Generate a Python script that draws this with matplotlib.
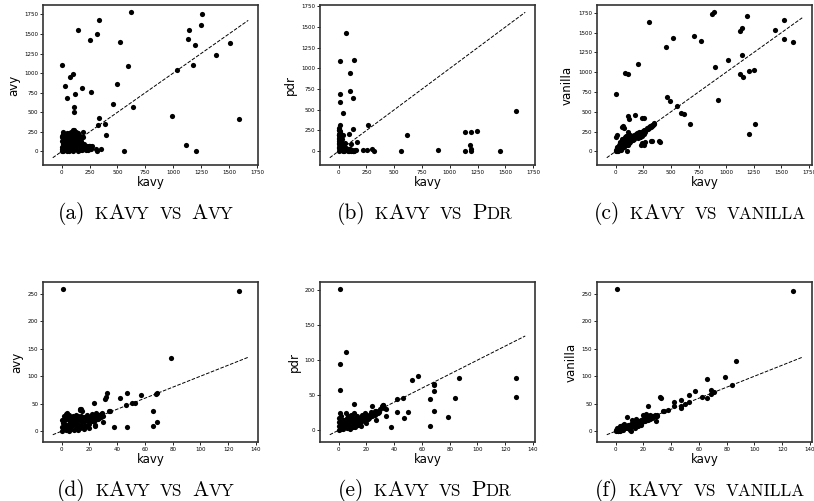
import numpy as np
import matplotlib
matplotlib.use("Agg")
import matplotlib.pyplot as plt

# ─── data ──────────────────────────────────────────────────────────
# top row: large benchmark set
kavy_avy_big = [
    0, 30, 45, 75, 105, 111, 111, 123, 183, 261, 144, 258, 321, 336, 519, 618, 591, 492,
    462, 642, 336, 324, 390, 399, 351, 312, 321, 561, 246, 165, 225, 255, 987, 1035,
    1119, 1200, 1146, 1137, 1197, 1179, 1245, 1254, 1383, 1512, 1593,
    0, 2, 5, 8, 3, 6, 10, 15, 20, 25, 30, 28, 35, 40, 45, 50, 55, 60, 65, 70, 75, 80,
    85, 90, 95, 100, 105, 110, 115, 120, 100, 110, 125, 130, 140, 150, 160, 170, 175,
    190, 200, 210, 180, 150, 230, 245, 260, 265, 270, 240, 220, 60, 20, 90,
    10, 20, 30, 40, 50, 60, 70, 80, 90, 100, 110, 120, 130, 140, 150, 160, 170, 15, 5,
    45, 85, 125, 95, 135, 165, 195, 185, 55, 35, 75,
]
avy_big = [
    1103, 831, 686, 950, 984, 567, 498, 737, 805, 762, 1546, 1427, 1504, 1683, 1393, 1776,
    1086, 865, 600, 567, 422, 332, 349, 213, 34, 30, 0, 0, 64, 21, 60, 70, 447, 1035,
    77, 0, 1546, 1436, 1363, 1099, 1619, 1759, 1235, 1389, 417,
    0, 30, 60, 100, 140, 180, 220, 10, 50, 90, 130, 170, 210, 20, 70, 110, 160, 200,
    230, 5, 40, 80, 120, 180, 240, 0, 60, 100, 140, 200, 270, 280, 30, 90, 160, 230,
    120, 60, 180, 245, 100, 40, 20, 5, 75, 70, 60, 30, 70, 20, 15, 140, 200, 230,
    120, 200, 40, 160, 240, 60, 120, 200, 20, 140, 220, 50, 180, 240, 80, 200, 140, 250,
    200, 10, 250, 250, 70, 130, 30, 180, 90, 40, 90, 170,
]

kavy_pdr_big = [
    69, 15, 135, 105, 12, 9, 99, 129, 39, 6, 15, 6, 39, 129, 93, 114, 165, 261, 615, 219,
    252, 303, 318, 561, 891, 1140, 1194, 1245, 1179, 1194, 1194, 1137, 1455, 1599,
    0, 2, 4, 5, 3, 6, 10, 12, 15, 18, 20, 25, 30, 35, 40, 45, 50, 60, 70, 80, 90, 100,
    110, 120, 130, 140, 150, 20, 30, 8, 25, 55, 10, 15, 0, 5,
    0, 0, 0, 0, 0, 8, 10, 14, 18, 22, 28, 35, 42, 50, 65, 75, 95, 105, 125, 160,
]
pdr_big = [
    1434, 1091, 1099, 941, 687, 594, 731, 646, 465, 283, 319, 210, 194, 263, 206, 85, 105,
    319, 198, 8, 8, 28, 0, 0, 16, 230, 230, 242, 69, 28, 0, 0, 0, 481,
    0, 40, 80, 120, 160, 190, 20, 60, 100, 140, 10, 50, 90, 30, 5, 60, 20, 10, 40, 5,
    25, 10, 0, 15, 5, 0, 8, 180, 150, 240, 120, 100, 220, 230, 200, 250,
    50, 100, 150, 200, 250, 30, 130, 170, 60, 100, 20, 70, 40, 5, 25, 10, 5, 30, 0, 10,
]

kavy_vanilla_big = [
    0, 85, 109, 198, 304, 459, 520, 708, 772, 875, 891, 1189, 1122, 1143, 1438, 1520,
    1526, 1608, 1146, 1015, 897, 1128, 1152, 1204, 1256, 927, 1262, 1210, 672, 559, 593,
    623, 462, 492, 395, 322, 350, 325, 258, 231, 252, 255, 176, 118, 115, 58, 0, 9, 106,
    69, 237, 252, 313, 328, 343, 237, 267, 328, 404, 222, 80, 90,
    0, 5, 10, 15, 20, 25, 30, 35, 40, 45, 50, 55, 60, 65, 70, 75, 80, 85, 90, 95, 100,
    110, 115, 120, 125, 130, 140, 150, 160, 170, 180, 190, 200, 210, 220, 230, 240, 250,
    260, 270, 290, 300,
    20, 30, 40, 50, 60, 70, 80, 90, 100, 110, 120, 130, 140, 150, 160, 170, 180, 200,
    220, 240, 260, 280, 300, 320, 340, 15, 35, 55,
]
vanilla_big = [
    729, 996, 979, 1102, 1635, 1313, 1432, 1458, 1394, 1733, 1758, 1708, 1521, 1555, 1538,
    1661, 1415, 1385, 1216, 1152, 1063, 975, 941, 1021, 1025, 644, 352, 216, 352, 568, 491,
    470, 691, 631, 127, 127, 352, 322, 85, 85, 225, 424, 458, 411, 445, 305, 186, 212, 0,
    318, 424, 254, 318, 339, 361, 107, 114, 127, 119, 182, 300, 200,
    0, 20, 40, 10, 60, 30, 80, 50, 100, 20, 70, 120, 40, 90, 150, 60, 110, 180, 80, 130,
    200, 150, 240, 100, 170, 210, 160, 190, 140, 210, 180, 230, 200, 240, 180, 250, 230,
    260, 240, 250, 280, 310,
    10, 20, 60, 40, 90, 50, 140, 110, 100, 80, 140, 120, 200, 150, 180, 150, 220, 170,
    220, 200, 270, 300, 290, 310, 330, 50, 120, 150,
]

# bottom row: small benchmark set
kavy_avy_small = [
    1.2, 128, 79, 69, 68, 57, 47, 42, 46, 53, 51, 33, 32, 31, 34, 35, 66, 66, 69, 47, 38,
    24, 23, 13, 14, 30,
    0, 1, 2, 1, 3, 4, 5, 6, 3, 7, 8, 9, 10, 11, 12, 13, 14, 15, 16, 17, 18, 19, 20, 21,
    22, 23, 24, 25, 26, 27, 28, 29, 30, 8, 5, 12, 16, 20, 10, 6, 13, 15, 9, 2, 4, 18, 24, 22,
    0, 1, 2, 3, 5, 6, 7, 8, 9, 10, 11, 12, 13, 14, 15, 16, 17, 18, 19, 20, 21, 22, 23,
    24, 25, 26, 27, 28, 5, 3, 10, 7, 0, 4,
]
avy_small = [
    258, 255, 133.5, 69, 68, 66, 70, 60, 47, 51, 52, 70, 62, 58, 37, 36, 36, 9, 16, 8, 8,
    9, 52, 40, 41, 16,
    0, 5, 10, 15, 2, 8, 14, 20, 22, 4, 12, 18, 25, 6, 14, 20, 28, 8, 16, 24, 30, 12, 20,
    28, 32, 18, 26, 34, 22, 30, 25, 33, 28, 28, 30, 2, 4, 6, 10, 26, 38, 36, 22, 18, 26,
    10, 12, 24,
    8, 20, 28, 32, 0, 10, 16, 20, 3, 14, 20, 28, 6, 12, 18, 26, 10, 20, 26, 14, 24, 18,
    28, 20, 28, 30, 24, 32, 20, 12, 30, 24, 20, 34,
]

kavy_pdr_small = [
    1, 5, 1, 1, 11, 53, 57, 69, 69, 69, 87, 128, 128, 84, 66, 46, 42, 42, 50, 47, 69, 79,
    66, 38, 34, 32, 24, 27,
    0, 1, 2, 1, 3, 4, 5, 3, 6, 7, 8, 9, 10, 11, 12, 13, 14, 15, 16, 17, 18, 19, 20, 21, 22,
    23, 24, 25, 26, 28, 30, 31, 32, 33, 34, 6, 9, 5, 11, 8, 12, 16, 20, 2, 4, 7, 10,
    0, 0, 0, 2, 3, 4, 5, 6, 7, 8, 9, 10, 11, 12, 13, 14, 15, 16, 17, 18, 19, 20, 22, 24,
    26, 27, 29, 1,
]
pdr_small = [
    201, 112, 95, 58, 38, 71, 77, 66, 64, 56, 75, 74, 47, 46, 45, 46, 45, 26, 26, 18, 28,
    19, 6, 4, 21, 36, 35, 14,
    0, 4, 8, 12, 2, 6, 10, 15, 3, 8, 12, 16, 5, 10, 14, 20, 8, 12, 18, 22, 14, 18, 20, 16,
    22, 26, 20, 24, 28, 24, 30, 34, 36, 32, 30, 18, 22, 25, 24, 2, 4, 6, 10, 20, 14, 20, 18,
    6, 12, 18, 2, 8, 12, 4, 8, 12, 16, 4, 10, 14, 18, 8, 14, 18, 12, 16, 20, 24, 16, 18,
    24, 22, 28, 26, 25,
]

kavy_vanilla_small = [
    0.7, 128, 87, 79, 66, 84, 69, 71, 69, 62, 66, 57, 53, 53, 50, 47, 47, 47, 42, 42, 32,
    33, 38, 34, 35, 23, 29, 8,
    0, 1, 2, 3, 4, 5, 6, 7, 8, 9, 10, 11, 12, 13, 14, 15, 16, 17, 18, 19, 20, 21, 22, 23,
    24, 25, 26, 27, 28, 30, 10, 12, 15, 6, 4, 3, 20, 22, 25, 18, 14, 11, 2, 5, 16,
    0, 1, 2, 3, 4, 5, 6, 7, 8, 9, 10, 11, 12, 13, 14, 15, 16, 17, 18, 19, 20, 21, 22, 23,
    24, 25, 26, 28, 29, 30,
]
vanilla_small = [
    258, 255, 127, 98, 95, 84, 74, 72, 68, 62, 61, 73, 66, 53, 50, 57, 42, 46, 53, 45, 63,
    60, 39, 36, 37, 45, 18, 26,
    0, 2, 4, 1, 6, 3, 8, 5, 10, 7, 12, 9, 14, 11, 16, 13, 18, 15, 20, 17, 22, 19, 24, 21,
    26, 23, 28, 25, 27, 28, 2, 20, 22, 14, 10, 9, 30, 32, 30, 12, 6, 0, 0, 12, 9,
    3, 5, 1, 5, 3, 7, 5, 9, 6, 11, 8, 13, 10, 15, 12, 17, 14, 19, 16, 21, 18, 23, 20, 25,
    22, 27, 24, 29, 27, 30,
]

panels = [
    (kavy_avy_big, avy_big, "avy"),
    (kavy_pdr_big, pdr_big, "pdr"),
    (kavy_vanilla_big, vanilla_big, "vanilla"),
    (kavy_avy_small, avy_small, "avy"),
    (kavy_pdr_small, pdr_small, "pdr"),
    (kavy_vanilla_small, vanilla_small, "vanilla"),
]

# caption pieces: (text, is_small_cap); None = word gap
VS_AVY = [("K", True), ("A", False), ("VY", True), None, ("VS", True), None]
captions = [
    [("(a)", False), None] + VS_AVY + [("A", False), ("VY", True)],
    [("(b)", False), None] + VS_AVY + [("P", False), ("DR", True)],
    [("(c)", False), None] + VS_AVY + [("VANILLA", True)],
    [("(d)", False), None] + VS_AVY + [("A", False), ("VY", True)],
    [("(e)", False), None] + VS_AVY + [("P", False), ("DR", True)],
    [("(f)", False), None] + VS_AVY + [("VANILLA", True)],
]

# ─── layout (pixels) ───────────────────────────────────────────────
W, H = 814, 501
col_left = [43, 320, 597]
row_top = [5, 282]
ax_w, ax_h = 215, 160
cap_cx = [145.5, 424.5, 700]
cap_base = [219, 496]
CAP_SIZE = 15.5
SC_RATIO = 0.8

fig = plt.figure(figsize=(W / 100, H / 100), dpi=100)

for i, (xs, ys, name) in enumerate(panels):
    r, c = divmod(i, 3)
    ax = fig.add_axes([col_left[c] / W, (H - row_top[r] - ax_h) / H, ax_w / W, ax_h / H])
    xs = np.asarray(xs, dtype=float)
    ys = np.asarray(ys, dtype=float)
    ax.scatter(xs, ys, s=14, c="k", linewidths=0, zorder=3)
    lo, hi = -0.05 * xs.max(), 1.05 * xs.max()
    ax.plot([lo, hi], [lo, hi], "k--", lw=0.7, zorder=2)
    ax.set_xlabel("kavy", fontsize=8.5, labelpad=1)
    ax.set_ylabel(name, fontsize=8.5, labelpad=3)
    ax.tick_params(labelsize=4, length=2, width=0.6, pad=1.5)
    for sp in ax.spines.values():
        sp.set_linewidth(1.2)
        sp.set_color("#333333")

# captions with fake small caps
renderer = fig.canvas.get_renderer()
gap = 0.45 * CAP_SIZE * 100 / 72
for i, parts in enumerate(captions):
    r, c = divmod(i, 3)
    items = []
    total = 0.0
    for p in parts:
        if p is None:
            items.append((None, gap))
            total += gap
            continue
        s, small = p
        t = fig.text(0, 0, s, family="cmr10",
                     fontsize=CAP_SIZE * (SC_RATIO if small else 1.0), va="baseline")
        w = t.get_window_extent(renderer).width
        items.append((t, w))
        total += w
    x = cap_cx[c] - total / 2
    yb = (H - cap_base[r]) / H
    for t, w in items:
        if t is not None:
            t.set_position((x / W, yb))
        x += w

fig.savefig("out.png", dpi=100)
